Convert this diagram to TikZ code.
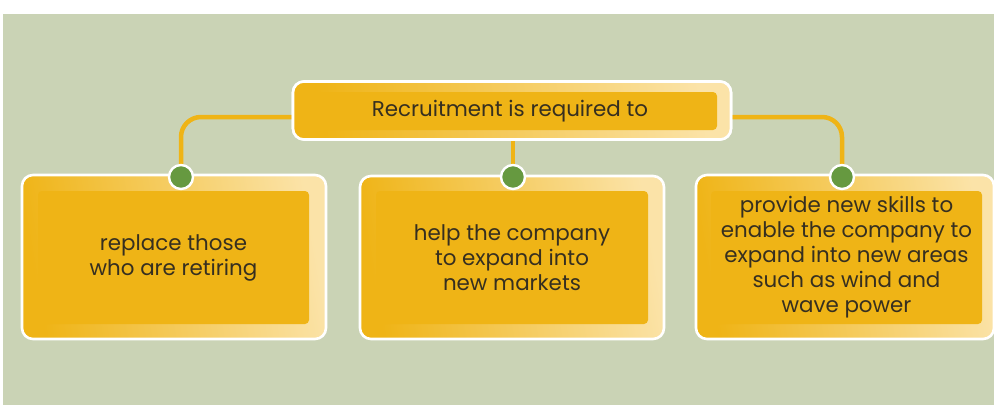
\documentclass[tikz,border=0pt]{standalone}
\usepackage{fontspec}
\setmainfont{Poppins}
\definecolor{bgwhite}{HTML}{FFFFFF}
\definecolor{sage}{HTML}{CAD3B5}
\definecolor{amber}{HTML}{EFB416}
\definecolor{paleamber}{HTML}{FBE3A8}
\definecolor{leaf}{HTML}{669940}
\definecolor{ink}{HTML}{362F20}
\tikzset{
  x=1pt, y=-1pt,
  frame/.style={draw=white, line width=2.6pt, rounded corners=11pt,
    left color=amber, right color=paleamber, shading angle=100,
    inner sep=0pt},
  panel/.style={fill=amber, rounded corners=4pt, inner sep=0pt,
    text=ink, align=center, font=\fontsize{21.4}{25}\selectfont},
  link/.style={draw=amber, line width=4.5pt, rounded corners=20pt},
  dot/.style={circle, fill=leaf, draw=white, line width=2.4pt,
    minimum size=24pt, inner sep=0pt},
}
\begin{document}
\begin{tikzpicture}
% page and backdrop
\fill[bgwhite] (0,0) rectangle (994,405);
\fill[sage] (3,14) rectangle (994,405);
\useasboundingbox (0,0) rectangle (994,405);

% heading box (frame only, so the connectors can start beneath it)
\node[frame, minimum width=438pt, minimum height=58pt] (topo) at (512,110.5) {};

% three outcome boxes
\node[frame, minimum width=304pt, minimum height=164pt] (lefto) at (174,257) {};
\node[panel, minimum width=271pt, minimum height=133pt] (left) at (173.5,257.5) {replace those\\who are retiring};

\node[frame, minimum width=304pt, minimum height=163pt] (mido) at (512,257.5) {};
\node[panel, minimum width=272pt, minimum height=133pt] (mid) at (512,257.5) {help the company\\to expand into\\new markets};

\node[frame, minimum width=298pt, minimum height=164pt] (righto) at (845,257) {};
\node[panel, minimum width=271pt, minimum height=133pt] (right) at (846.5,257.5) {provide new skills to\\enable the company to\\expand into new areas\\such as wind and\\wave power};

% connector dots
\coordinate (dlc) at (181,177);
\coordinate (dmc) at (513,177);
\coordinate (drc) at (842,177);

% connectors
\draw[link] (topo.west |- 0,117) -| (dlc);
\draw[link] (topo.east |- 0,117) -| (drc);
\draw[link, rounded corners=0pt] (topo.south -| dmc) -- (dmc);

% heading box and dots drawn over the connector ends
\node[frame, minimum width=438pt, minimum height=58pt] at (512,110.5) {};
\node[panel, minimum width=414pt, minimum height=38pt] (top) at (510,111) {Recruitment is required to};
\node[dot] (dl) at (dlc) {};
\node[dot] (dm) at (dmc) {};
\node[dot] (dr) at (drc) {};
\end{tikzpicture}
\end{document}
